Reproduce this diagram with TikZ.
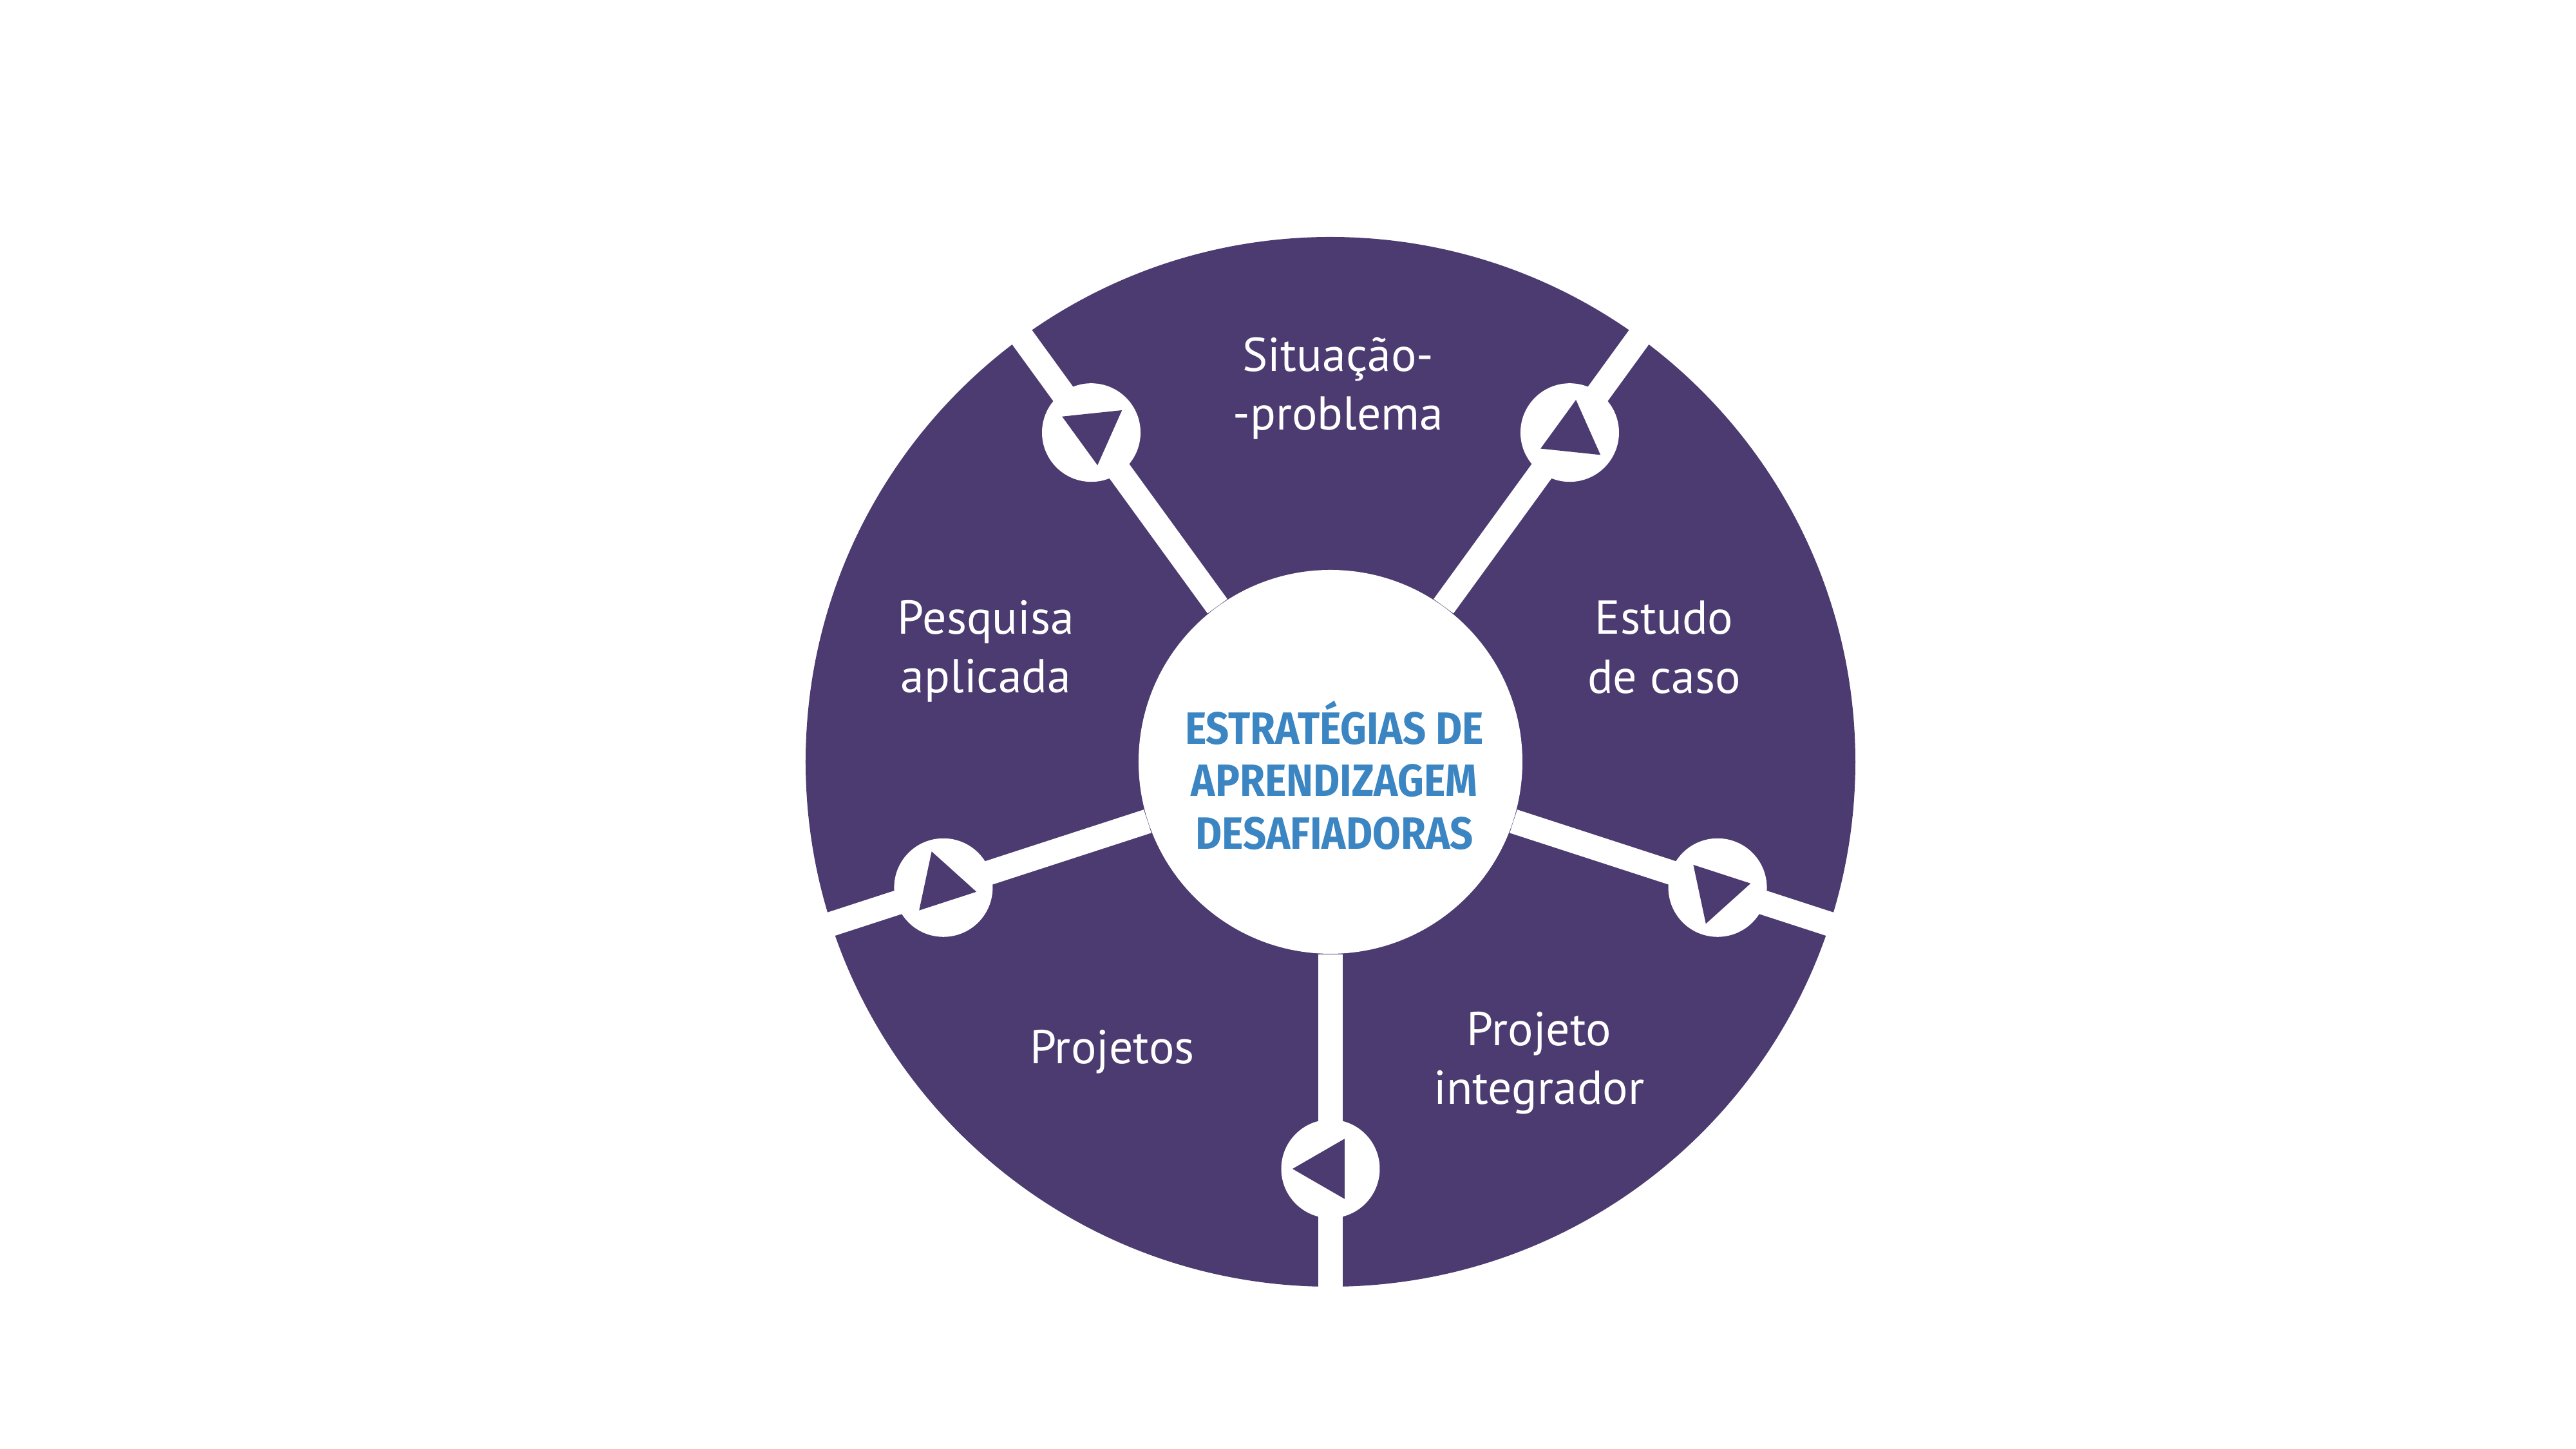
\documentclass[tikz,border=0pt]{standalone}
\usepackage{fontspec}
\setmainfont{PT Sans}
\newfontfamily\hubfont[FakeStretch=0.90]{Fira Sans}
\definecolor{roxo}{HTML}{4C3B71}
\definecolor{azul}{HTML}{3A85C2}

\begin{document}
\begin{tikzpicture}[
  every node/.style={align=center},
  hub/.style={circle, fill=white, minimum size=5.96cm, inner sep=0pt},
  knot/.style={circle, fill=white, minimum size=1.53cm, inner sep=0pt},
  elo/.style={white, line width=3.8mm},
  etapa/.style={text=white, font=\fontsize{21}{26}\selectfont},
  titulo/.style={text=azul, font=\hubfont\bfseries\fontsize{20}{23.2}\selectfont}
]
\useasboundingbox (-20.66,-10.67) rectangle (19.34,11.83);
\fill[roxo] (0,0) circle (8.15);
\node[hub] (hub) at (0,0) {};
\foreach \a/\n in {126/1, 54/2, -18/3, -90/4, 198/5} {
  \coordinate (r\n) at (\a:8.6);
  \draw[elo] (hub) -- (r\n);
  \node[knot] (k\n) at (\a:6.32) {};
  \fill[roxo, shift={(k\n.center)}, rotate=\a-90, xshift=0.5mm] (0:0.54) -- (120:0.54) -- (240:0.54) -- cycle;
}
\node[titulo] (tit) at (0.06,-0.21) {ESTRATÉGIAS DE\\APRENDIZAGEM\\DESAFIADORAS};

\node[etapa] (sit) at (0.12, 5.80) {Situação-\\-problema};
\node[etapa] (est) at (5.18, 1.78) {Estudo\\de caso};
\node[etapa] (int) at (3.24, -4.68) {Projeto\\integrador};
\node[etapa] (pro) at (-3.39, -4.50) {Projetos};
\node[etapa] (pes) at (-5.35, 1.72) {Pesquisa\\aplicada};
\end{tikzpicture}
\end{document}
